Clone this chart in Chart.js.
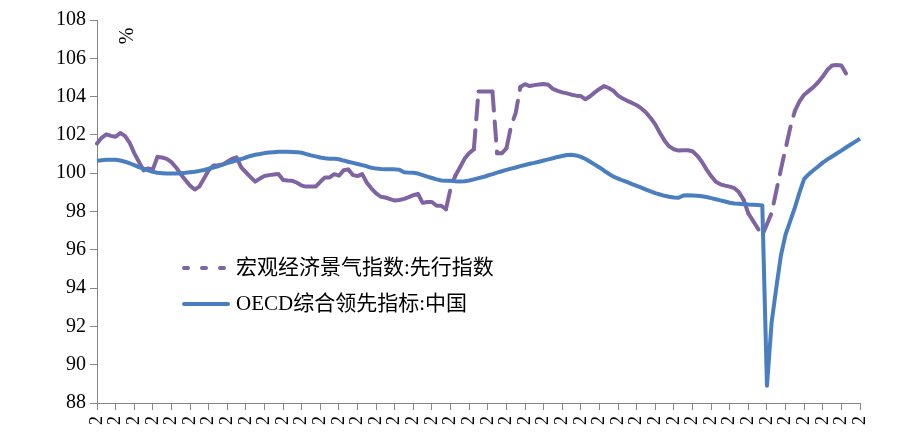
<!DOCTYPE html>
<html>
<head>
<meta charset="utf-8">
<script src="https://cdn.jsdelivr.net/npm/chart.js@4/dist/chart.umd.min.js"></script>
<style>
  html, body { margin: 0; padding: 0; background: #fff; }
  canvas { display: block; }
</style>
</head>
<body>
<canvas id="cliChart" width="908" height="448"></canvas>
<script>
// monthly categories (index only), x ticks every 4 months
const months = Array.from({ length: 165 }, (_, i) => i);
const tickLabels = Array(42).fill('2');

const seriesNames = ['宏观经济景气指数:先行指数', 'OECD综合领先指标:中国'];

// 宏观经济景气指数:先行指数 (null = no value that month)
const leadingIndex = [
  101.55, 101.85, 102.03, 101.95, 101.9, 102.1, 101.95, 101.6, 101.05, 100.6,
  100.15, 100.25, 100.2, 100.85, 100.82, 100.75, 100.58, 100.3, 99.95, 99.65,
  99.35, 99.15, 99.3, 99.72, 100.15, 100.4, 100.42, 100.45, 100.6, 100.75,
  100.83, 100.3, 100.05, 99.8, 99.56, 99.72, 99.85, 99.9, 99.93, 99.96,
  99.65, 99.62, 99.6, 99.5, 99.35, 99.3, 99.3, 99.3, 99.55, 99.78,
  99.78, 99.95, 99.87, 100.15, 100.2, 99.9, 99.85, 99.95, 99.5, 99.2,
  98.95, 98.77, 98.73, 98.65, 98.57, 98.6, 98.66, 98.75, 98.85, 98.92,
  98.45, 98.5, 98.5, 98.3, 98.3, 98.12, 99.2, 99.85, 100.3, 100.75,
  101.05, 101.25, 104.26, 104.26, 104.26, 104.26, 101.04, 101.04, 101.3, 102.45,
  103.15, 104.5, 104.65, 104.55, 104.6, 104.63, 104.66, 104.62, 104.4, 104.3,
  104.22, 104.17, 104.1, 104.05, 104.03, 103.86, 104.02, 104.22, 104.4, 104.55,
  104.45, 104.3, 104.05, 103.9, 103.78, 103.67, 103.55, 103.38, 103.17, 102.88,
  102.55, 102.1, 101.7, 101.4, 101.25, 101.18, 101.2, 101.2, 101.15, 100.92,
  100.6, 100.2, 99.85, 99.55, 99.42, 99.35, 99.3, 99.22, 99.0, 98.6,
  97.9, null, null, 96.75, null, 97.92, null, 100.2, null, 102.37,
  103.25, 103.75, 104.1, 104.3, 104.5, 104.75, 105.05, 105.4, 105.62, 105.65,
  105.62, 105.2, null, null, null
];

// OECD综合领先指标:中国
const oecdCli = [
  100.65, 100.68, 100.7, 100.7, 100.7, 100.66, 100.6, 100.52, 100.42, 100.32,
  100.24, 100.15, 100.07, 100.02, 100.0, 99.98, 99.98, 99.99, 100.0, 100.02,
  100.05, 100.08, 100.12, 100.17, 100.23, 100.3, 100.36, 100.45, 100.53, 100.6,
  100.67, 100.74, 100.82, 100.9, 100.96, 101.0, 101.05, 101.08, 101.1, 101.12,
  101.12, 101.12, 101.11, 101.1, 101.07, 101.0, 100.93, 100.88, 100.82, 100.78,
  100.76, 100.75, 100.73, 100.66, 100.6, 100.54, 100.48, 100.42, 100.36, 100.28,
  100.24, 100.22, 100.21, 100.2, 100.2, 100.18, 100.05, 100.03, 100.02, 99.98,
  99.9, 99.82, 99.75, 99.68, 99.62, 99.6, 99.6, 99.58, 99.57, 99.58,
  99.62, 99.68, 99.74, 99.8, 99.88, 99.95, 100.03, 100.1, 100.17, 100.24,
  100.3, 100.37, 100.43, 100.49, 100.54, 100.6, 100.66, 100.72, 100.78, 100.85,
  100.9, 100.95, 100.96, 100.93, 100.85, 100.74, 100.6, 100.45, 100.3, 100.13,
  99.97, 99.82, 99.72, 99.62, 99.53, 99.43, 99.34, 99.25, 99.14, 99.05,
  98.96, 98.89, 98.82, 98.77, 98.73, 98.72, 98.83, 98.85, 98.84, 98.82,
  98.8, 98.76, 98.7, 98.64, 98.58, 98.52, 98.46, 98.42, 98.4, 98.38,
  98.36, 98.35, 98.34, 98.32, 88.9, 92.2, 94.0, 95.7, 96.8, 97.5,
  98.2, 99.0, 99.7, 99.95, 100.15, 100.35, 100.55, 100.72, 100.87, 101.03,
  101.18, 101.34, 101.5, 101.65, 101.8
];

const purple = '#8064A2';
const blue = '#4A7EBF';
const axisGray = '#868686';

// long segments get the dashed look, short ones stay solid
function segLength(ctx) {
  const dx = ctx.p1.x - ctx.p0.x;
  const dy = ctx.p1.y - ctx.p0.y;
  return Math.sqrt(dx * dx + dy * dy);
}

const overlayPlugin = {
  id: 'overlay',
  afterDraw(chart) {
    const c = chart.ctx;
    c.save();
    // unit label
    c.fillStyle = '#000';
    c.font = '20px "Liberation Serif", "Times New Roman", serif';
    c.translate(128, 36);
    c.rotate(-Math.PI / 2);
    c.textAlign = 'center';
    c.textBaseline = 'middle';
    c.fillText('%', 0, 0);
    c.restore();

    // legend
    c.save();
    c.lineWidth = 4;
    c.lineCap = 'round';
    c.strokeStyle = purple;
    c.setLineDash([4, 14]);
    c.beginPath();
    c.moveTo(184, 268);
    c.lineTo(230, 268);
    c.stroke();
    c.setLineDash([]);
    c.strokeStyle = blue;
    c.beginPath();
    c.moveTo(184, 304);
    c.lineTo(228, 304);
    c.stroke();
    c.fillStyle = '#000';
    c.font = '21px "Liberation Serif", "Noto Sans CJK SC", serif';
    c.textBaseline = 'middle';
    c.fillText(seriesNames[0], 236, 268);
    c.fillText(seriesNames[1], 236, 304);
    c.restore();
  }
};

const ctx = document.getElementById('cliChart').getContext('2d');
new Chart(ctx, {
  type: 'line',
  data: {
    labels: months,
    datasets: [{
      label: seriesNames[1],
      data: oecdCli,
      borderColor: blue,
      borderWidth: 4,
      pointRadius: 0,
      tension: 0,
      borderJoinStyle: 'round',
      order: 0
    }, {
      label: seriesNames[0],
      data: leadingIndex,
      borderColor: purple,
      borderWidth: 4,
      pointRadius: 0,
      tension: 0,
      spanGaps: true,
      borderCapStyle: 'round',
      borderJoinStyle: 'round',
      segment: {
        borderDash: c => segLength(c) > 12.5 ? [19, 11] : undefined
      },
      order: 1
    }]
  },
  options: {
    responsive: false,
    animation: false,
    layout: { padding: { top: 20, right: 48, left: 0, bottom: 0 } },
    plugins: {
      legend: { display: false },
      tooltip: { enabled: false }
    },
    scales: {
      x: {
        type: 'category',
        offset: false,
        afterBuildTicks: axis => {
          axis.ticks = axis.ticks.filter((t, i) => i % 4 === 0);
        },
        afterFit: axis => { axis.height = 45; },
        grid: { drawOnChartArea: false, tickLength: 7, color: axisGray },
        border: { color: axisGray, width: 1 },
        ticks: {
          autoSkip: false,
          maxRotation: 90,
          minRotation: 90,
          padding: 6,
          color: '#000',
          font: { family: '"Liberation Serif", "Times New Roman", serif', size: 18 },
          callback: (value, index) => tickLabels[index]
        }
      },
      y: {
        min: 88,
        max: 108,
        afterFit: axis => { axis.width = 97; },
        grid: { drawOnChartArea: false, tickLength: 7, color: axisGray },
        border: { color: axisGray, width: 1 },
        ticks: {
          stepSize: 2,
          padding: 4,
          color: '#000',
          font: { family: '"Liberation Serif", "Times New Roman", serif', size: 20 }
        }
      }
    }
  },
  plugins: [overlayPlugin]
});
</script>
</body>
</html>
